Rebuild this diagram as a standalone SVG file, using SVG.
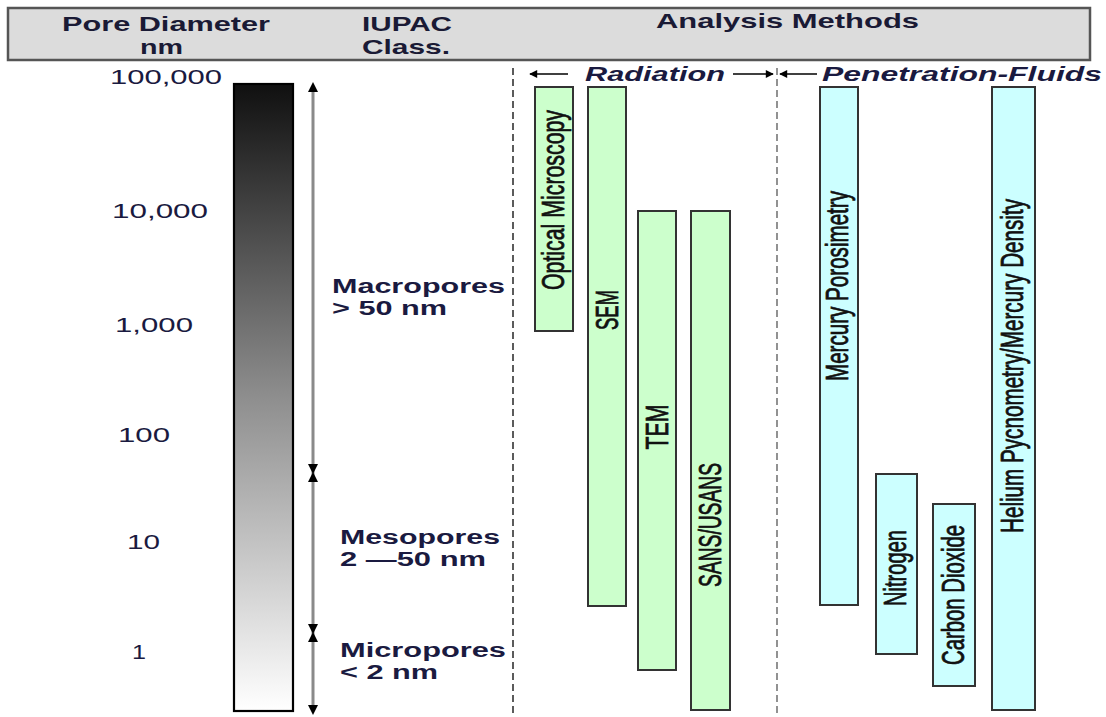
<svg xmlns="http://www.w3.org/2000/svg" width="1106" height="717" viewBox="0 0 1106 717">
  <defs>
    <linearGradient id="poreGrad" x1="0" y1="0" x2="0" y2="1">
      <stop offset="0" stop-color="#101010"/>
      <stop offset="0.5" stop-color="#8e8e8e"/>
      <stop offset="1" stop-color="#ffffff"/>
    </linearGradient>
    <marker id="tip" viewBox="0 0 10 10" refX="9" refY="5" markerWidth="10" markerHeight="12" markerUnits="userSpaceOnUse" orient="auto">
      <path d="M0,0 L10,5 L0,10 Z" fill="#000"/>
    </marker>
    <marker id="tipSmall" viewBox="0 0 10 10" refX="9" refY="5" markerWidth="11" markerHeight="8" markerUnits="userSpaceOnUse" orient="auto">
      <path d="M0,0 L10,5 L0,10 Z" fill="#000"/>
    </marker>
  </defs>
  <style>
    .hdr { font-family: "Liberation Sans", Arial, sans-serif; font-weight: bold; font-size: 21px; fill: #1a1a35; }
    .scale { font-family: "Liberation Sans", Arial, sans-serif; font-size: 20px; fill: #1a1a40; }
    .cls { font-family: "Liberation Sans", Arial, sans-serif; font-weight: bold; font-size: 20px; fill: #1a1a40; }
    .grp { font-family: "Liberation Sans", Arial, sans-serif; font-weight: bold; font-style: italic; font-size: 20px; fill: #1a1a40; }
    .bar-r { fill: #ccffcc; stroke: #333; stroke-width: 2; }
    .bar-p { fill: #ccffff; stroke: #333; stroke-width: 2; }
    .lbl { font-family: "Liberation Sans Narrow", "Liberation Sans", Arial, sans-serif; font-size: 20px; fill: #111; stroke: #111; stroke-width: 0.5; }
    .divider { stroke: #333; stroke-width: 1.6; stroke-dasharray: 7 4; fill: none; }
    .divider2 { stroke: #777; stroke-width: 1.6; stroke-dasharray: 7 4; fill: none; }
    .rng { stroke: #8a8a8a; stroke-width: 3; fill: none; }
    .mk { stroke: #000; stroke-opacity: 0; stroke-width: 1; fill: none; }
    .dir { stroke: #000; stroke-width: 1.4; fill: none; }
  </style>

  <!-- column header band -->
  <g id="header">
    <rect x="8" y="8" width="1082" height="52" fill="#dcdcdc" stroke="#555" stroke-width="2.5"/>
    <text class="hdr" x="62" y="31" textLength="208" lengthAdjust="spacingAndGlyphs">Pore Diameter</text>
    <text class="hdr" x="140" y="54" textLength="43" lengthAdjust="spacingAndGlyphs">nm</text>
    <text class="hdr" x="362" y="31" textLength="90" lengthAdjust="spacingAndGlyphs">IUPAC</text>
    <text class="hdr" x="362" y="54" textLength="88" lengthAdjust="spacingAndGlyphs">Class.</text>
    <text class="hdr" x="656" y="28" textLength="263" lengthAdjust="spacingAndGlyphs">Analysis Methods</text>
  </g>

  <!-- logarithmic pore-size scale -->
  <g id="scale">
    <text class="scale" x="110" y="84" textLength="112" lengthAdjust="spacingAndGlyphs">100,000</text>
    <text class="scale" x="112" y="218" textLength="96" lengthAdjust="spacingAndGlyphs">10,000</text>
    <text class="scale" x="115" y="332" textLength="78" lengthAdjust="spacingAndGlyphs">1,000</text>
    <text class="scale" x="118" y="442" textLength="52" lengthAdjust="spacingAndGlyphs">100</text>
    <text class="scale" x="127" y="549" textLength="33" lengthAdjust="spacingAndGlyphs">10</text>
    <text class="scale" x="132" y="659" textLength="14" lengthAdjust="spacingAndGlyphs">1</text>
  </g>

  <g id="gradient-bar">
    <rect x="234" y="84" width="59" height="627" fill="url(#poreGrad)" stroke="#000" stroke-width="2.2"/>
  </g>

  <!-- IUPAC size ranges and group dividers -->
  <g id="connectors">
    <line class="rng" x1="313" y1="90" x2="313" y2="708"/>
    <!-- arrowheads: macropores -->
    <line class="mk" x1="313" y1="120" x2="313" y2="83" marker-end="url(#tip)"/>
    <line class="mk" x1="313" y1="430" x2="313" y2="473" marker-end="url(#tip)"/>
    <!-- arrowheads: mesopores -->
    <line class="mk" x1="313" y1="520" x2="313" y2="473" marker-end="url(#tip)"/>
    <line class="mk" x1="313" y1="600" x2="313" y2="633" marker-end="url(#tip)"/>
    <!-- arrowheads: micropores -->
    <line class="mk" x1="313" y1="680" x2="313" y2="633" marker-end="url(#tip)"/>
    <line class="mk" x1="313" y1="690" x2="313" y2="714" marker-end="url(#tip)"/>

    <line class="divider" x1="513" y1="68" x2="513" y2="717"/>
    <line class="divider2" x1="777" y1="68" x2="777" y2="717"/>

    <line class="dir" x1="568" y1="74" x2="530" y2="74" marker-end="url(#tipSmall)"/>
    <line class="dir" x1="733" y1="74" x2="773" y2="74" marker-end="url(#tipSmall)"/>
    <line class="dir" x1="817" y1="74" x2="780" y2="74" marker-end="url(#tipSmall)"/>
  </g>

  <g id="iupac-macro">
    <text class="cls" x="332" y="293" textLength="173" lengthAdjust="spacingAndGlyphs">Macropores</text>
    <text class="cls" x="332" y="315" textLength="115" lengthAdjust="spacingAndGlyphs">&gt; 50 nm</text>
  </g>
  <g id="iupac-meso">
    <text class="cls" x="340" y="544" textLength="160" lengthAdjust="spacingAndGlyphs">Mesopores</text>
    <text class="cls" x="340" y="566" textLength="146" lengthAdjust="spacingAndGlyphs">2 —50 nm</text>
  </g>
  <g id="iupac-micro">
    <text class="cls" x="340" y="657" textLength="166" lengthAdjust="spacingAndGlyphs">Micropores</text>
    <text class="cls" x="340" y="679" textLength="98" lengthAdjust="spacingAndGlyphs">&lt; 2 nm</text>
  </g>

  <g id="group-labels">
    <text class="grp" x="585" y="81" textLength="140" lengthAdjust="spacingAndGlyphs">Radiation</text>
    <text class="grp" x="822" y="81" textLength="280" lengthAdjust="spacingAndGlyphs">Penetration-Fluids</text>
  </g>

  <!-- radiation methods -->
  <g id="optical-microscopy">
    <rect class="bar-r" x="535" y="87" width="38" height="244"/>
    <text class="lbl" transform="translate(553,200) rotate(-90) scale(1,1.55)" y="7.2" text-anchor="middle" textLength="180" lengthAdjust="spacingAndGlyphs">Optical Microscopy</text>
  </g>
  <g id="sem">
    <rect class="bar-r" x="588" y="87" width="38" height="519"/>
    <text class="lbl" transform="translate(607,310) rotate(-90) scale(1,1.55)" y="7.2" text-anchor="middle" textLength="40" lengthAdjust="spacingAndGlyphs">SEM</text>
  </g>
  <g id="tem">
    <rect class="bar-r" x="638" y="211" width="38" height="459"/>
    <text class="lbl" transform="translate(657,427) rotate(-90) scale(1,1.55)" y="7.2" text-anchor="middle" textLength="45" lengthAdjust="spacingAndGlyphs">TEM</text>
  </g>
  <g id="sans-usans">
    <rect class="bar-r" x="691" y="211" width="39" height="499"/>
    <text class="lbl" transform="translate(710,525) rotate(-90) scale(1,1.55)" y="7.2" text-anchor="middle" textLength="124" lengthAdjust="spacingAndGlyphs">SANS/USANS</text>
  </g>

  <!-- penetration-fluid methods -->
  <g id="mercury-porosimetry">
    <rect class="bar-p" x="820" y="87" width="38" height="518"/>
    <text class="lbl" transform="translate(837,286) rotate(-90) scale(1,1.55)" y="7.2" text-anchor="middle" textLength="190" lengthAdjust="spacingAndGlyphs">Mercury Porosimetry</text>
  </g>
  <g id="nitrogen">
    <rect class="bar-p" x="876" y="474" width="41" height="180"/>
    <text class="lbl" transform="translate(895,568) rotate(-90) scale(1,1.55)" y="7.2" text-anchor="middle" textLength="76" lengthAdjust="spacingAndGlyphs">Nitrogen</text>
  </g>
  <g id="carbon-dioxide">
    <rect class="bar-p" x="933" y="504" width="42" height="182"/>
    <text class="lbl" transform="translate(953,595) rotate(-90) scale(1,1.55)" y="7.2" text-anchor="middle" textLength="140" lengthAdjust="spacingAndGlyphs">Carbon Dioxide</text>
  </g>
  <g id="helium-pycnometry">
    <rect class="bar-p" x="992" y="87" width="43" height="623"/>
    <text class="lbl" transform="translate(1012,366) rotate(-90) scale(1,1.55)" y="7.2" text-anchor="middle" textLength="334" lengthAdjust="spacingAndGlyphs">Helium Pycnometry/Mercury Density</text>
  </g>
</svg>
